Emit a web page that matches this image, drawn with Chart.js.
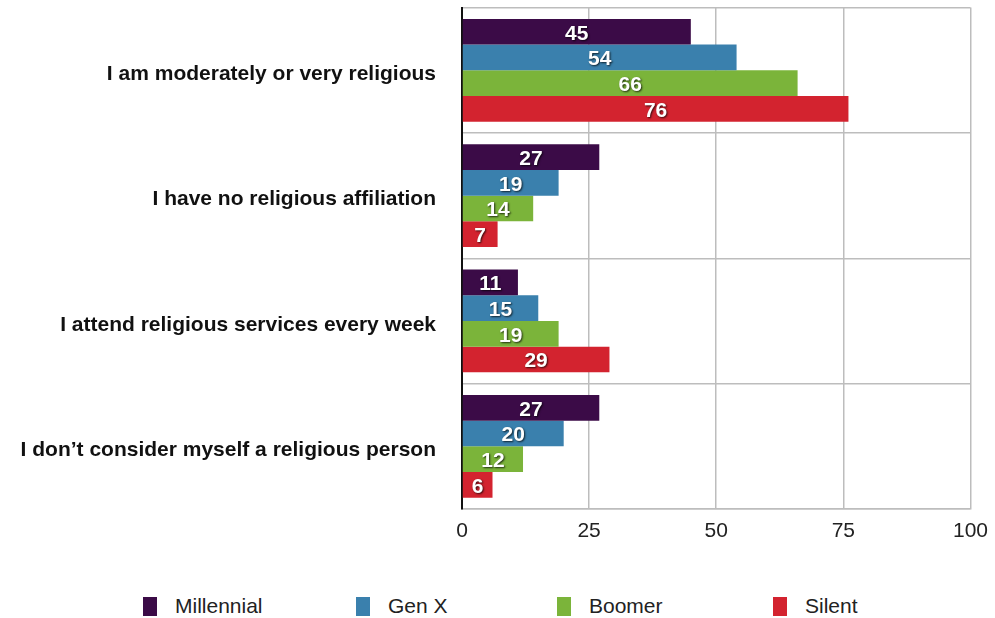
<!DOCTYPE html>
<html>
<head>
<meta charset="utf-8">
<script src="https://cdn.jsdelivr.net/npm/chart.js@4/dist/chart.umd.min.js"></script>
<style>
    body { margin: 0; background: #ffffff; overflow: hidden; }
    #wrap { position: relative; width: 995px; height: 618px; overflow: hidden; }
    #box-grafico { position: absolute; left: 0; top: -31px; width: 998px; height: 581px; }
    #legenda { position: absolute; left: 0; top: 594px; width: 995px; height: 26px; font-family: Arial, "Liberation Sans", sans-serif; font-size: 21px; color: #222; }
    .item { position: absolute; top: 0; display: flex; align-items: center; }
    .cor { width: 14px; height: 19px; margin-right: 18px; }
</style>
</head>
<body>
<div id="wrap">
    <div id="box-grafico"><canvas id="grafico-religiao"></canvas></div>
    <div id="legenda"></div>
</div>
<script>
// categorias e valores por geração (%)
var categorias = [
    'I am moderately or very religious',
    'I have no religious affiliation',
    'I attend religious services every week',
    'I don\u2019t consider myself a religious person'
];
var geracoes = ['Millennial', 'Gen X', 'Boomer', 'Silent'];
var millennial = [45, 27, 11, 27];
var genX = [54, 19, 15, 20];
var boomer = [66, 14, 19, 12];
var silent = [76, 7, 29, 6];
var ticksX = [0, 25, 50, 75, 100];

var cores = ['#3b0b47', '#3a80ad', '#7bb43a', '#d3232f'];
var series = [millennial, genX, boomer, silent];

var graficoReligiao = null;

// números brancos dentro das barras
var rotulosBarras = {
    id: 'rotulosBarras',
    afterDatasetsDraw: function (chart) {
        var ctx = chart.ctx;
        ctx.save();
        ctx.font = 'bold 21px Arial, "Liberation Sans", sans-serif';
        ctx.textAlign = 'center';
        ctx.textBaseline = 'middle';
        ctx.fillStyle = '#ffffff';
        ctx.shadowColor = 'rgba(0, 0, 0, 0.75)';
        ctx.shadowOffsetX = 1;
        ctx.shadowOffsetY = 1;
        ctx.shadowBlur = 2;
        chart.data.datasets.forEach(function (ds, i) {
            chart.getDatasetMeta(i).data.forEach(function (barra, j) {
                var x = (barra.base + barra.x) / 2;
                ctx.fillText(String(ds.data[j]), x, barra.y + 2);
            });
        });
        ctx.restore();
    }
};

function criarGraficoReligiao() {
    var ctx = document.getElementById('grafico-religiao').getContext('2d');
    graficoReligiao = new Chart(ctx, {
        type: 'bar',
        data: {
            labels: categorias,
            datasets: geracoes.map(function (nome, i) {
                return {
                    label: nome,
                    data: series[i],
                    backgroundColor: cores[i],
                    borderWidth: 0,
                    categoryPercentage: 0.82,
                    barPercentage: 1
                };
            })
        },
        options: {
            indexAxis: 'y',
            responsive: true,
            maintainAspectRatio: false,
            animation: false,
            layout: { padding: { top: 0, right: 23, left: 0, bottom: 0 } },
            plugins: {
                legend: { display: false },
                tooltip: { enabled: false }
            },
            scales: {
                x: {
                    min: 0,
                    max: 100,
                    afterBuildTicks: function (scale) {
                        scale.ticks = ticksX.map(function (v) { return { value: v }; });
                    },
                    afterFit: function (scale) { scale.height = 41; },
                    grid: { color: '#bdbdbd', lineWidth: 1.5, drawTicks: false },
                    border: { color: '#bdbdbd', width: 1.5 },
                    ticks: {
                        padding: 10,
                        color: '#222',
                        font: { size: 21, family: 'Arial, "Liberation Sans", sans-serif' }
                    }
                },
                y: {
                    afterFit: function (scale) { scale.width = 462; },
                    grid: { color: '#bdbdbd', lineWidth: 1.5, offset: true, drawTicks: false },
                    border: { color: '#111', width: 2 },
                    ticks: {
                        padding: 26,
                        labelOffset: 4,
                        color: '#111',
                        font: { size: 21, weight: 'bold', family: 'Arial, "Liberation Sans", sans-serif' }
                    }
                }
            }
        },
        plugins: [rotulosBarras]
    });
}

// legenda em colunas fixas
function criarLegenda() {
    var posicoes = [143, 356, 557, 773];
    var legenda = document.getElementById('legenda');
    geracoes.forEach(function (nome, i) {
        var item = document.createElement('div');
        item.className = 'item';
        item.style.left = posicoes[i] + 'px';
        var cor = document.createElement('span');
        cor.className = 'cor';
        cor.style.background = cores[i];
        var texto = document.createElement('span');
        texto.textContent = nome;
        item.appendChild(cor);
        item.appendChild(texto);
        legenda.appendChild(item);
    });
}

criarGraficoReligiao();
criarLegenda();
</script>
</body>
</html>
